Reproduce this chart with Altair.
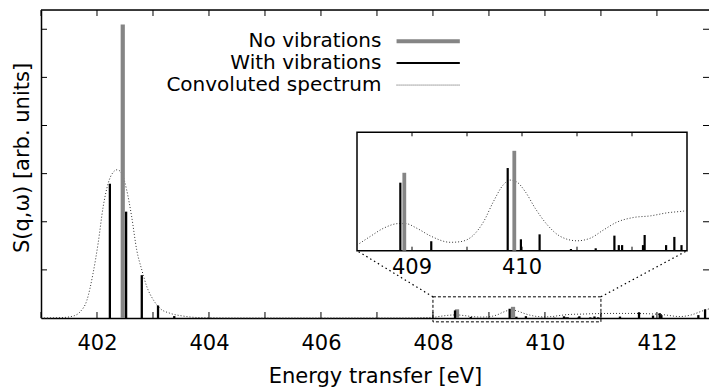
import altair as alt
import pandas as pd

# ---------------- data ----------------
novib_E = [402.46, 408.43, 409.43]
novib_S = [6.10, 0.181, 0.232]

vib_E = [402.23, 402.52, 402.80, 403.09, 403.38,
         408.394, 408.675, 409.37, 409.49, 409.66, 409.945, 410.17,
         410.34, 410.38, 410.41, 410.60, 410.615, 410.81, 410.885, 410.95,
         411.34, 411.68, 411.93, 412.05, 412.08, 412.74, 412.86]
vib_S = [2.79, 2.21, 0.89, 0.26, 0.04,
         0.158, 0.022, 0.192, 0.0265, 0.038, 0.004, 0.0056,
         0.035, 0.013, 0.013, 0.013, 0.0365, 0.013, 0.032, 0.013,
         0.03, 0.12, 0.05, 0.10, 0.06, 0.06, 0.18]

conv_E = [401.0, 401.4, 401.6, 401.70, 401.82, 401.93, 402.02, 402.11, 402.20,
          402.29, 402.36, 402.44, 402.53, 402.62, 402.71, 402.80, 402.89,
          403.01, 403.125, 403.30, 403.54, 403.8, 404.5, 407.5, 407.9,
          408.0, 408.12, 408.24, 408.38, 408.44, 408.545, 408.67, 408.85,
          408.94, 409.06, 409.15, 409.24, 409.33, 409.39, 409.45, 409.53,
          409.62, 409.73, 409.85, 410.0, 410.12, 410.24, 410.36, 410.51,
          410.67, 410.82, 410.97, 411.0, 411.2, 411.5, 411.8, 412.1,
          412.41, 412.6, 412.82, 412.93]
conv_S = [0.0, 0.01, 0.05, 0.13, 0.37, 0.93, 1.55, 2.31, 2.80,
          3.03, 3.08, 3.01, 2.66, 2.10, 1.41, 1.00, 0.65,
          0.37, 0.20, 0.10, 0.04, 0.01, 0.0, 0.0, 0.01,
          0.013, 0.033, 0.052, 0.063, 0.063, 0.052, 0.034, 0.0195,
          0.021, 0.0365, 0.067, 0.114, 0.153, 0.164, 0.160, 0.137,
          0.0985, 0.060, 0.033, 0.023, 0.029, 0.048, 0.066, 0.077,
          0.081, 0.088, 0.092, 0.093, 0.095, 0.095, 0.09, 0.07,
          0.03, 0.06, 0.15, 0.19]

main_xticks = list(range(401, 413))
main_xlabels = [402, 404, 406, 408, 410, 412]
main_yticks = [1, 2, 3, 4, 5, 6]
inset_xticks = [408.5, 409.0, 409.5, 410.0, 410.5]
inset_xlabels = ["409", "410"]
inset_xlabel_at = [408.5, 409.5]   # where the inset's labels sit on its own axis
legend_labels = ["No vibrations", "With vibrations", "Convoluted spectrum"]

# ---------------- layout ----------------
W, H = 668, 308
X0, X1 = 401.0, 412.93
Y0, Y1 = 0.0, 6.4
PXX = W / (X1 - X0)
PXY = H / (Y1 - Y0)
TLX, TLY = 6 / PXX, 6 / PXY

IN_X0, IN_X1 = 408.0, 411.0
IN_Y1 = 0.275
IN_PX = (316.0, 646.0)          # inset left/right in view pixels
IN_PY = (240.7, 122.3)          # inset bottom/top in view pixels
IN_TL = 4 / ((IN_PY[0] - IN_PY[1]) / IN_Y1)

FONT = "DejaVu Sans"
FS = 21
FS_LEG = 20

xs = alt.Scale(domain=[X0, X1], nice=False, zero=False)
ys = alt.Scale(domain=[Y0, Y1], nice=False, zero=False)
xi = alt.Scale(domain=[IN_X0, IN_X1], range=list(IN_PX), nice=False, zero=False)
yi = alt.Scale(domain=[0, IN_Y1], range=list(IN_PY), nice=False, zero=False)

AX_X = alt.Axis(values=main_xlabels, ticks=False, tickSize=0, grid=False,
                domain=True, domainColor="black", domainWidth=1.5,
                labelFontSize=FS, labelFont=FONT, labelColor="black",
                labelPadding=14, labelFlush=False, labelOverlap=False, format="d",
                title="Energy transfer [eV]", titleFontSize=FS, titleFont=FONT,
                titleFontWeight="normal", titleColor="black",
                titleY=47, titleBaseline="top")
AX_Y = alt.Axis(labels=False, ticks=False, tickSize=0, grid=False,
                domain=True, domainColor="black", domainWidth=1.5,
                title="S(q,\u03c9) [arb. units]", titleFontSize=FS, titleFont=FONT,
                titleFontWeight="normal", titleColor="black",
                titleAngle=270, titleX=-18.5, titleY=147.5,
                titleAlign="center", titleBaseline="middle")


def mx(field=None, datum=None):
    if datum is not None:
        return alt.XDatum(datum, type="quantitative", scale=xs, axis=AX_X)
    return alt.X(field, type="quantitative", scale=xs, axis=AX_X)


def my(field=None, datum=None):
    if datum is not None:
        return alt.YDatum(datum, type="quantitative", scale=ys, axis=AX_Y)
    return alt.Y(field, type="quantitative", scale=ys, axis=AX_Y)


def ix(field=None, datum=None):
    if datum is not None:
        return alt.XDatum(datum, type="quantitative", scale=xi, axis=None)
    return alt.X(field, type="quantitative", scale=xi, axis=None)


def iy(field=None, datum=None):
    if datum is not None:
        return alt.YDatum(datum, type="quantitative", scale=yi, axis=None)
    return alt.Y(field, type="quantitative", scale=yi, axis=None)


novib = pd.DataFrame({"E": novib_E, "S": novib_S})
vib = pd.DataFrame({"E": vib_E, "S": vib_S})
conv = pd.DataFrame({"E": conv_E, "S": conv_S})
one = pd.DataFrame({"k": [0]})
xt = pd.DataFrame({"E": main_xticks})
yt = pd.DataFrame({"S": main_yticks})
ixt = pd.DataFrame({"E": inset_xticks})
ixl = pd.DataFrame({"E": inset_xlabel_at, "lab": inset_xlabels})

GREY = "#858585"
DOT = dict(strokeDash=[1, 2], strokeWidth=1, color="#333333")

# ---------------- main panel ----------------
main_layers = [
    alt.Chart(conv).mark_line(interpolate="monotone", **DOT).encode(x=mx("E"), y=my("S")),
    alt.Chart(novib).mark_rule(strokeWidth=4.2, color=GREY).encode(
        x=mx("E"), y=my("S"), y2=alt.Y2Datum(0)),
    alt.Chart(vib).mark_rule(strokeWidth=2.3, color="black").encode(
        x=mx("E"), y=my("S"), y2=alt.Y2Datum(0)),
    # inward ticks
    alt.Chart(xt).mark_rule(color="black", strokeWidth=1).encode(
        x=mx("E"), y=my(datum=Y0), y2=alt.Y2Datum(Y0 + TLY)),
    alt.Chart(xt).mark_rule(color="black", strokeWidth=1).encode(
        x=mx("E"), y=my(datum=Y1 - TLY), y2=alt.Y2Datum(Y1)),
    alt.Chart(yt).mark_rule(color="black", strokeWidth=1).encode(
        y=my("S"), x=mx(datum=X0), x2=alt.X2Datum(X0 + TLX)),
    alt.Chart(yt).mark_rule(color="black", strokeWidth=1).encode(
        y=my("S"), x=mx(datum=X1 - TLX), x2=alt.X2Datum(X1)),
    # top frame line
    alt.Chart(one).mark_rule(color="black", strokeWidth=1.5).encode(
        x=mx(datum=X0), x2=alt.X2Datum(X1), y=my(datum=Y1)),
    # dashed zoom box
    alt.Chart(one).mark_rect(fillOpacity=0, stroke="black", strokeWidth=1,
                             strokeDash=[3, 2]).encode(
        x=mx(datum=408.0), x2=alt.X2Datum(411.0),
        y=my(datum=-0.08), y2=alt.Y2Datum(0.44)),
]

# connectors from the zoom box to the inset
in_bl_E = X0 + IN_PX[0] / PXX
in_br_E = X0 + IN_PX[1] / PXX
in_b_S = (H - IN_PY[0]) / PXY
for bx, ex in [(408.0, in_bl_E), (411.0, in_br_E)]:
    main_layers.append(
        alt.Chart(one).mark_rule(color="black", strokeWidth=1.2, strokeDash=[1.5, 3]).encode(
            x=mx(datum=bx), x2=alt.X2Datum(ex), y=my(datum=0.44), y2=alt.Y2Datum(in_b_S)))

# legend
LEG_TX = 407.08
LEG_L0, LEG_L1 = 407.35, 408.48
leg_rows = [5.75, 5.30, 4.84]
leg_styles = [dict(strokeWidth=4, color=GREY),
              dict(strokeWidth=2, color="black"),
              dict(strokeDash=[1, 1], strokeWidth=1, color="#555555")]
for lab, yy, st in zip(legend_labels, leg_rows, leg_styles):
    main_layers.append(
        alt.Chart(one).mark_text(align="right", baseline="middle", fontSize=FS_LEG,
                                 font=FONT, color="black", text=lab).encode(
            x=mx(datum=LEG_TX), y=my(datum=yy)))
    main_layers.append(
        alt.Chart(one).mark_rule(**st).encode(
            x=mx(datum=LEG_L0), x2=alt.X2Datum(LEG_L1), y=my(datum=yy)))

main = alt.layer(*main_layers)

# ---------------- inset ----------------
in_filter = (alt.datum.E >= IN_X0) & (alt.datum.E <= IN_X1)
inset_layers = [
    alt.Chart(one).mark_rect(fill="white", stroke="black", strokeWidth=1.5).encode(
        x=ix(datum=IN_X0), x2=alt.X2Datum(IN_X1), y=iy(datum=0), y2=alt.Y2Datum(IN_Y1)),
    alt.Chart(conv).transform_filter(in_filter).mark_line(interpolate="monotone", **DOT).encode(
        x=ix("E"), y=iy("S")),
    alt.Chart(novib).transform_filter(in_filter).mark_rule(strokeWidth=3.8, color=GREY).encode(
        x=ix("E"), y=iy("S"), y2=alt.Y2Datum(0)),
    alt.Chart(vib).transform_filter(in_filter).mark_rule(strokeWidth=2.2, color="black").encode(
        x=ix("E"), y=iy("S"), y2=alt.Y2Datum(0)),
    alt.Chart(ixt).mark_rule(color="black", strokeWidth=1).encode(
        x=ix("E"), y=iy(datum=0), y2=alt.Y2Datum(IN_TL)),
    alt.Chart(ixt).mark_rule(color="black", strokeWidth=1).encode(
        x=ix("E"), y=iy(datum=IN_Y1 - IN_TL), y2=alt.Y2Datum(IN_Y1)),
    alt.Chart(ixl).mark_text(baseline="top", align="center", dy=6, fontSize=FS,
                             font=FONT, color="black").encode(
        x=ix("E"), y=iy(datum=0), text="lab:N"),
]
inset = alt.layer(*inset_layers)

chart = (
    alt.layer(main, inset)
    .resolve_scale(x="independent", y="independent")
    .properties(width=W, height=H,
                autosize=alt.AutoSizeParams(type="none"),
                padding={"left": 41, "top": 10, "right": 0, "bottom": 72})
    .configure_view(stroke=None)
    .configure(font=FONT)
)

chart.save("out.html", embed_options={"renderer": "svg", "actions": False})
